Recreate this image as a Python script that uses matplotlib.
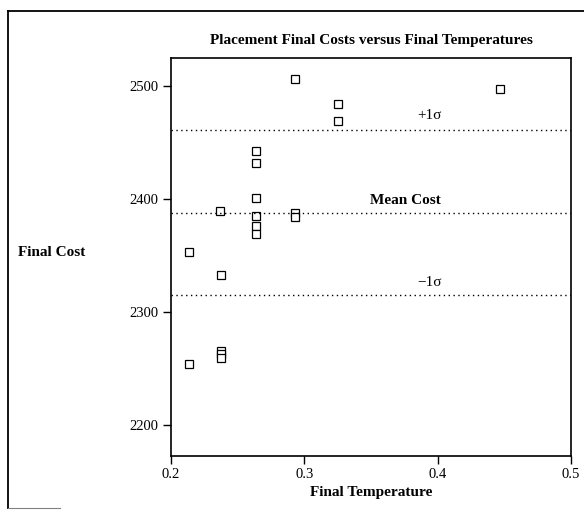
import matplotlib
matplotlib.use("Agg")
import matplotlib.pyplot as plt
from matplotlib.lines import Line2D

plt.rcParams['font.family'] = ['Liberation Serif', 'DejaVu Serif']

# final temperature / final cost
temps = [0.293, 0.325, 0.325, 0.447,
         0.264, 0.264, 0.264, 0.264, 0.264, 0.264,
         0.237, 0.293, 0.293,
         0.2135, 0.2375,
         0.2375, 0.2375, 0.2375, 0.2135]
costs = [2506, 2484, 2469, 2498,
         2443, 2432, 2401, 2385, 2376, 2369,
         2390, 2388, 2384,
         2353, 2333,
         2266, 2263, 2260, 2254]

mean_cost = 2388
sigma = 73
x_ticks = [0.2, 0.3, 0.4, 0.5]
y_ticks = [2200, 2300, 2400, 2500]

fig = plt.figure(figsize=(5.84, 5.16), dpi=100)
ax = fig.add_axes([171/584, 1 - 456/516, 400/584, 398/516])

ax.plot(temps, costs, 's', mfc='white', mec='black', ms=5.5, mew=0.9, ls='none')

for yv in [mean_cost + sigma, mean_cost, mean_cost - sigma]:
    ax.axhline(yv, color='black', ls=(0, (1, 2.5)), lw=1.0)

ax.text(0.394, mean_cost + sigma + 7, '+1σ', ha='center', va='bottom', fontsize=11)
ax.text(0.376, mean_cost + 5, 'Mean Cost', ha='center', va='bottom', fontsize=11, fontweight='bold')
ax.text(0.394, mean_cost - sigma + 6, '\u22121σ', ha='center', va='bottom', fontsize=11)

ax.set_xlim(0.2, 0.5)
ax.set_ylim(2173, 2525)
ax.set_xticks(x_ticks)
ax.set_xticklabels([str(t) for t in x_ticks])
ax.set_yticks(y_ticks)
ax.tick_params(direction='out', length=6, width=1.0, labelsize=10.5, pad=3)

for s in ax.spines.values():
    s.set_linewidth(1.2)

ax.set_title('Placement Final Costs versus Final Temperatures', fontsize=11,
             fontweight='bold', pad=10)
ax.set_xlabel('Final Temperature', fontsize=11, fontweight='bold', labelpad=3)
fig.text(18/584, 1 - 253/516, 'Final Cost', fontsize=11, fontweight='bold',
         ha='left', va='center')

# outer frame
fw = 1.3
fig.add_artist(Line2D([8/584, 1.0], [1 - 11/516, 1 - 11/516], color='black', lw=fw))
fig.add_artist(Line2D([8/584, 8/584], [1 - 11/516, 1 - 508/516], color='black', lw=fw))
fig.add_artist(Line2D([8/584, 60/584], [1 - 508/516, 1 - 508/516], color='gray', lw=0.8))

fig.savefig('out.png', dpi=100)
